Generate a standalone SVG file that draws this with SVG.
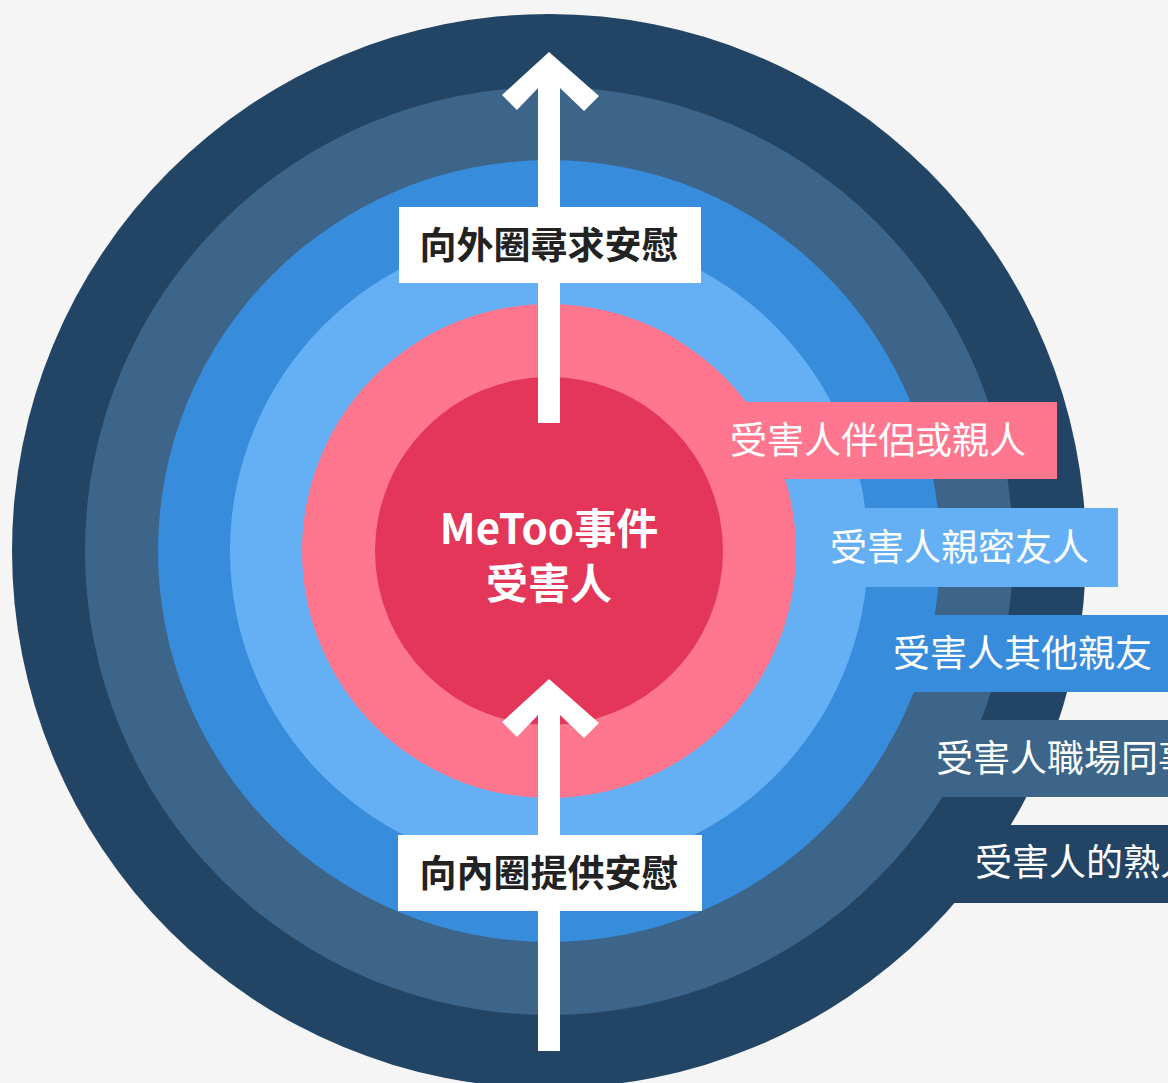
<svg xmlns="http://www.w3.org/2000/svg" width="1168" height="1083" viewBox="0 0 1168 1083">
<style>
.lbl{font-family:"Noto Sans CJK TC","Noto Sans CJK SC",sans-serif;font-size:37px;fill:#ffffff;}
.arrowlbl{font-family:"Noto Sans CJK TC","Noto Sans CJK SC",sans-serif;font-size:37px;font-weight:700;fill:#222222;text-anchor:middle;}
.center{font-family:"Noto Sans CJK TC","Noto Sans CJK SC",sans-serif;font-size:42px;font-weight:700;fill:#ffffff;text-anchor:middle;}
.c1{fill:#234565;} .c2{fill:#3d6589;} .c3{fill:#388cdc;} .c4{fill:#65b0f5;} .c5{fill:#fe778f;} .c6{fill:#e43659;}
</style>
<rect width="1168" height="1083" fill="#f5f5f5"/>
<g id="ring-acquaintance">
<circle class="c1" cx="549" cy="551" r="537"/>
<rect class="c1" x="600" y="825" width="600" height="78"/>
<text class="lbl" x="975" y="876">受害人的熟人</text>
</g>
<g id="ring-coworkers">
<circle class="c2" cx="549" cy="551" r="464"/>
<rect class="c2" x="600" y="720" width="600" height="77"/>
<text class="lbl" x="936" y="772">受害人職場同事</text>
</g>
<g id="ring-other-friends">
<circle class="c3" cx="549" cy="551" r="391"/>
<rect class="c3" x="600" y="615" width="600" height="77"/>
<text class="lbl" x="893" y="667">受害人其他親友</text>
</g>
<g id="ring-close-friends">
<circle class="c4" cx="549" cy="551" r="319"/>
<rect class="c4" x="600" y="508" width="518" height="79"/>
<text class="lbl" x="830" y="561">受害人親密友人</text>
</g>
<g id="ring-partner">
<circle class="c5" cx="549" cy="551" r="247"/>
<rect class="c5" x="600" y="402" width="457" height="77"/>
<text class="lbl" x="730" y="454">受害人伴侶或親人</text>
</g>
<g id="victim">
<circle class="c6" cx="549" cy="551" r="174"/>
<text class="center" x="549" y="544">MeToo事件</text>
<text class="center" x="549" y="599">受害人</text>
</g>
<g id="connectors" fill="#ffffff">
<polygon points="549,52 599,96 584,111 560,88 560,423 538,423 538,88 517,110 502,95"/>
<polygon points="549,679 599,723 584,738 560,715 560,1051 538,1051 538,715 517,737 502,722"/>
</g>
<g id="label-outward">
<rect x="399" y="207" width="302" height="76" fill="#ffffff"/>
<text class="arrowlbl" x="549" y="259">向外圈尋求安慰</text>
</g>
<g id="label-inward">
<rect x="398" y="835" width="304" height="76" fill="#ffffff"/>
<text class="arrowlbl" x="549" y="887">向內圈提供安慰</text>
</g>
</svg>
